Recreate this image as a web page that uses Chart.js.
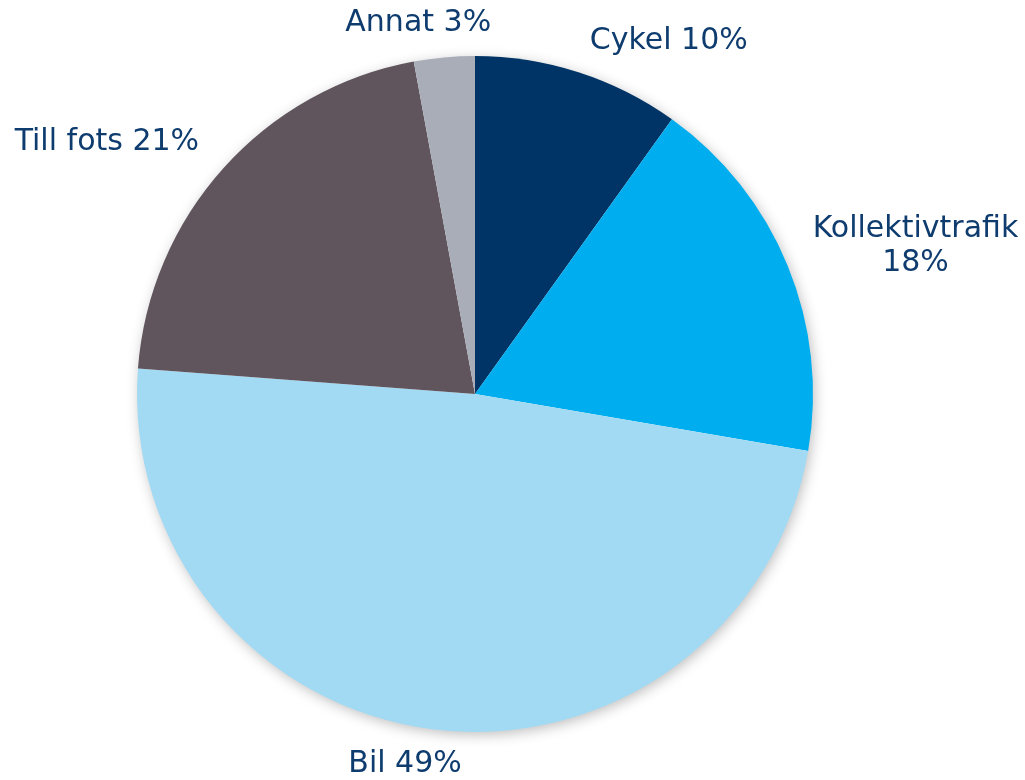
<!DOCTYPE html>
<html>
<head>
<meta charset="utf-8">
<script src="https://cdn.jsdelivr.net/npm/chart.js@4"></script>
<style>
  html, body { margin: 0; padding: 0; background: #fff; }
  #wrap { width: 1025px; height: 780px; }
</style>
</head>
<body>
<div id="wrap"><canvas id="travelChart" width="1025" height="780"></canvas></div>
<script>
  // Data (share of trips, clockwise from 12 o'clock)
  const categories = ['Cykel', 'Kollektivtrafik', 'Bil', 'Till fots', 'Annat'];
  const shares = [9.9, 17.8, 48.5, 20.9, 2.9];
  const shownPercent = [10, 18, 49, 21, 3];
  const sliceColors = ['#003466', '#00aeef', '#a3daf3', '#60545d', '#a8adb8'];

  // Label placement: angle (deg, clockwise from top) and distance in radii
  const labelSpots = [
    { angle: 28.8, dist: 1.19 },
    { angle: 71.4, dist: 1.375, split: true },
    { angle: 190.7, dist: 1.115 },
    { angle: 304.4, dist: 1.32 },
    { angle: 351.3, dist: 1.11 }
  ];

  // soft shadow under the whole pie
  const pieShadow = {
    id: 'pieShadow',
    beforeDatasetsDraw(chart) {
      const arc = chart.getDatasetMeta(0).data[0];
      if (!arc) return;
      const { ctx } = chart;
      ctx.save();
      ctx.shadowColor = 'rgba(0,0,0,0.28)';
      ctx.shadowBlur = 14;
      ctx.shadowOffsetX = 2;
      ctx.shadowOffsetY = 3;
      ctx.fillStyle = '#ffffff';
      ctx.beginPath();
      ctx.arc(arc.x, arc.y, arc.outerRadius - 1, 0, Math.PI * 2);
      ctx.fill();
      ctx.restore();
    }
  };

  // outside labels
  const outsideLabels = {
    id: 'outsideLabels',
    afterDatasetsDraw(chart) {
      const { ctx } = chart;
      const meta = chart.getDatasetMeta(0);
      const arc0 = meta.data[0];
      const cx = arc0.x, cy = arc0.y, r = arc0.outerRadius;
      ctx.save();
      ctx.font = '30px "DejaVu Sans", Verdana, sans-serif';
      ctx.fillStyle = '#0e3c6e';
      ctx.textAlign = 'center';
      ctx.textBaseline = 'middle';
      categories.forEach((name, i) => {
        const spot = labelSpots[i];
        const a = spot.angle * Math.PI / 180;
        const x = cx + Math.sin(a) * r * spot.dist;
        const y = cy - Math.cos(a) * r * spot.dist;
        const pct = shownPercent[i] + '%';
        if (spot.split) {
          ctx.fillText(name, x, y - 17);
          ctx.fillText(pct, x, y + 17);
        } else {
          ctx.fillText(name + ' ' + pct, x, y);
        }
      });
      ctx.restore();
    }
  };

  new Chart(document.getElementById('travelChart'), {
    type: 'pie',
    data: {
      labels: categories,
      datasets: [{
        data: shares,
        backgroundColor: sliceColors,
        borderWidth: 0,
        hoverOffset: 0
      }]
    },
    options: {
      responsive: false,
      animation: false,
      layout: { padding: { top: 56, bottom: 48, left: 0, right: 75 } },
      plugins: {
        legend: { display: false },
        tooltip: { enabled: false }
      }
    },
    plugins: [pieShadow, outsideLabels]
  });
</script>
</body>
</html>
